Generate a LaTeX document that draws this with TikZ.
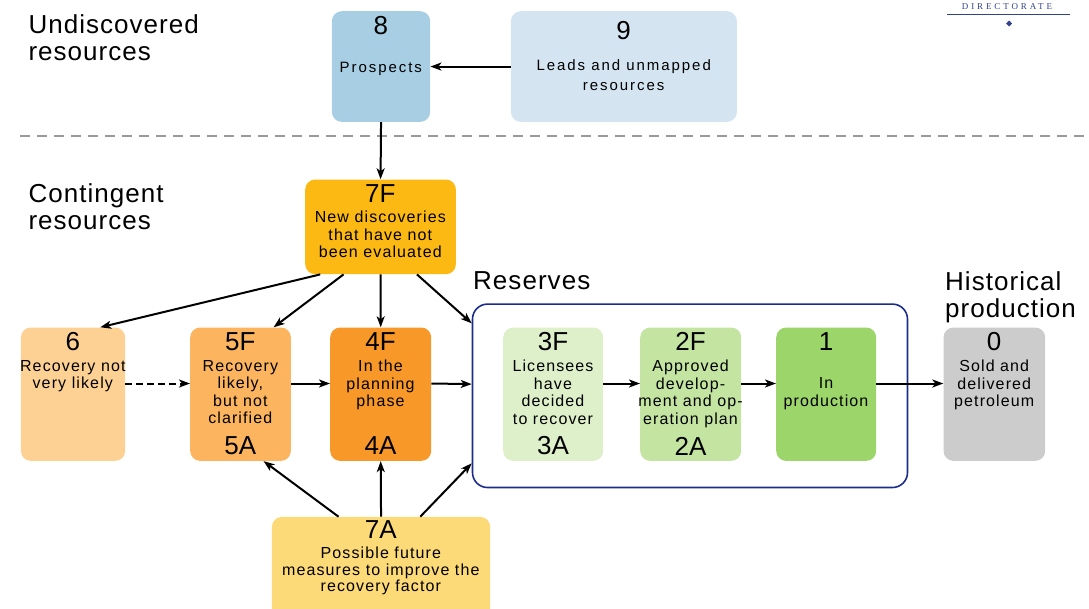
\documentclass[tikz,border=0pt]{standalone}
\usepackage{fontspec}
\setmainfont{Liberation Sans}
\newfontfamily\headf{Liberation Sans}[LetterSpace=4]
\newfontfamily\bodyf{Liberation Sans}[LetterSpace=7]
\newfontfamily\topf{Liberation Sans}[LetterSpace=13]
\newfontfamily\logof{Liberation Serif}[LetterSpace=32]
\usetikzlibrary{arrows.meta,calc}
\definecolor{c8}{RGB}{167,206,227}
\definecolor{c9}{RGB}{212,229,241}
\definecolor{c7f}{RGB}{253,185,19}
\definecolor{c7a}{RGB}{253,218,120}
\definecolor{c6}{RGB}{253,209,147}
\definecolor{c5}{RGB}{252,181,94}
\definecolor{c4}{RGB}{248,152,40}
\definecolor{c3}{RGB}{222,240,202}
\definecolor{c2}{RGB}{196,229,161}
\definecolor{c1}{RGB}{156,213,106}
\definecolor{c0}{RGB}{204,204,204}
\definecolor{resblue}{RGB}{28,44,140}
\definecolor{logoblue}{RGB}{50,66,140}
\definecolor{sepgray}{RGB}{155,152,160}
\begin{document}
\begin{tikzpicture}[x=1pt,y=-1pt,
  box/.style={rectangle, rounded corners=10pt, inner sep=0pt, anchor=north west, draw=none},
  num/.style={font=\fontsize{26}{26}\selectfont, inner sep=0pt},
  txt/.style={font=\bodyf\fontsize{16}{17.5}\selectfont, align=center, inner sep=0pt, anchor=north},
  toptxt/.style={font=\topf\fontsize{15}{20.5}\selectfont, align=center, inner sep=0pt, anchor=north},
  head/.style={font=\headf\fontsize{26}{26.5}\selectfont, align=left, inner sep=0pt, anchor=north west},
  arr/.style={line width=2pt, -{Stealth[length=11pt,width=8pt,inset=3pt]}},
  sepline/.style={line width=2.6pt, sepgray, dash pattern=on 10pt off 7pt}
]
\useasboundingbox (0,0) rectangle (1089,608);

% logo
\node[font=\logof\fontsize{9}{9}\selectfont, text=logoblue, inner sep=0pt, anchor=base] (logo) at (1007,9) {DIRECTORATE};
\draw[logoblue, line width=1pt] (947,14.3) -- (1070,14.3);
\fill[logoblue] (1009,20.5) -- (1012,23.5) -- (1009,26.5) -- (1006,23.5) -- cycle;

% headings
\node[head] (hund) at (28.3,14.5) {Undiscovered\\resources};
\node[head] (hcon) at (28.3,183.5) {Contingent\\resources};
\node[head] (hres) at (473,271.5) {Reserves};
\node[head] (hhis) at (945,271.5) {Historical\\production};

% separator
\draw[sepline] (20,136) -- (1089,136);

% boxes
\node[box, fill=c8, minimum width=98.3pt, minimum height=110.7pt] (b8) at (331.7,11) {};
\node[box, fill=c9, minimum width=226pt, minimum height=110.7pt] (b9) at (510.7,11) {};
\node[box, fill=c7f, minimum width=150.7pt, minimum height=94.7pt] (f7) at (305,179.3) {};
\node[box, fill=c6, minimum width=104.3pt, minimum height=133.4pt] (b6) at (20.7,327.3) {};
\node[box, fill=c5, minimum width=100.7pt, minimum height=133.4pt] (b5) at (190,327.3) {};
\node[box, fill=c4, minimum width=101pt, minimum height=133.4pt] (b4) at (330,327.3) {};
\node[box, draw=resblue, line width=1.6pt, rounded corners=15pt, minimum width=435pt, minimum height=183.4pt] (res) at (471.7,303.3) {};
\node[box, fill=c3, minimum width=100pt, minimum height=133.4pt] (b3) at (503,327.3) {};
\node[box, fill=c2, minimum width=101pt, minimum height=133.4pt] (b2) at (640,327.3) {};
\node[box, fill=c1, minimum width=100pt, minimum height=133.4pt] (b1) at (776,327.3) {};
\node[box, fill=c0, minimum width=101.7pt, minimum height=133.4pt] (b0) at (943.3,327.3) {};
\node[box, fill=c7a, minimum width=218.3pt, minimum height=110pt] (a7) at (271.7,516.7) {};

% numbers
\node[num] (n8) at (380.8,26) {8};
\node[num] (n9) at (623.7,31) {9};
\node[num] (n7f) at (380.3,194) {7F};
\node[num] (n6) at (72.8,341.7) {6};
\node[num] (n5f) at (240.3,341.7) {5F};
\node[num] (n5a) at (240.3,446) {5A};
\node[num] (n4f) at (380.5,341.7) {4F};
\node[num] (n4a) at (380.5,446) {4A};
\node[num] (n3f) at (553,341.7) {3F};
\node[num] (n3a) at (553,446) {3A};
\node[num] (n2f) at (690.5,341.7) {2F};
\node[num] (n2a) at (690.5,446) {2A};
\node[num] (n1) at (826,341.7) {1};
\node[num] (n0) at (994.2,341.7) {0};
\node[num] (n7a) at (380.8,529.5) {7A};

% texts
\node[toptxt] (t8) at (380.8,62.3) {Prospects};
\node[toptxt] (t9) at (623.7,59) {Leads and unmapped\\resources};
\node[txt] (t7f) at (380.3,211) {New discoveries\\that have not\\been evaluated};
\node[txt] (t6) at (72.8,360) {Recovery not\\very likely};
\node[txt] (t5) at (240.3,360) {Recovery\\likely,\\but not\\clarified};
\node[txt] (t4) at (380.5,360) {In the\\planning\\phase};
\node[txt] (t3) at (553,360) {Licensees\\have\\decided\\to recover};
\node[txt] (t2) at (690.5,360) {Approved\\develop-\\ment and op-\\eration plan};
\node[txt] (t1) at (826,377.5) {In\\production};
\node[txt] (t0) at (994.2,360) {Sold and\\delivered\\petroleum};
\node[txt, font=\bodyf\fontsize{16}{16.7}\selectfont] (t7a) at (380.8,546.6) {Possible future\\measures to improve the\\recovery factor};

% connectors
\draw[arr] (b9.west) -- (b8.east);
\draw[arr] (b8.south) -- (f7.north);
\draw[arr] ($(f7.south)+(-60.3,0)$) -- ($(b6.north)+(27.2,0)$);
\draw[arr] ($(f7.south)+(-37,0)$) -- ($(b5.north)+(33,0)$);
\draw[arr] (f7.south) -- (b4.north);
\draw[arr] ($(f7.south)+(36.4,0)$) -- ($(res.north west)+(0,20)$);
\draw[arr, dash pattern=on 7pt off 4pt] ($(b6.east)+(0,-10.7)$) -- ($(b5.west)+(0,-10.7)$);
\draw[arr] ($(b5.east)+(0,-10.7)$) -- ($(b4.west)+(0,-10.7)$);
\draw[arr] ($(b4.east)+(0,-10.7)$) -- ($(res.west)+(0,-11.7)$);
\draw[arr] ($(b3.east)+(0,-10.7)$) -- ($(b2.west)+(0,-10.7)$);
\draw[arr] ($(b2.east)+(0,-10.7)$) -- ($(b1.west)+(0,-10.7)$);
\draw[arr] ($(b1.east)+(0,-10.7)$) -- ($(b0.west)+(0,-10.7)$);
\draw[arr] ($(a7.north)+(-42.5,0)$) -- ($(b5.south)+(23,0)$);
\draw[arr] (a7.north) -- (b4.south);
\draw[arr] ($(a7.north)+(39.2,0)$) -- ($(res.south west)+(0,-25)$);
\end{tikzpicture}
\end{document}
